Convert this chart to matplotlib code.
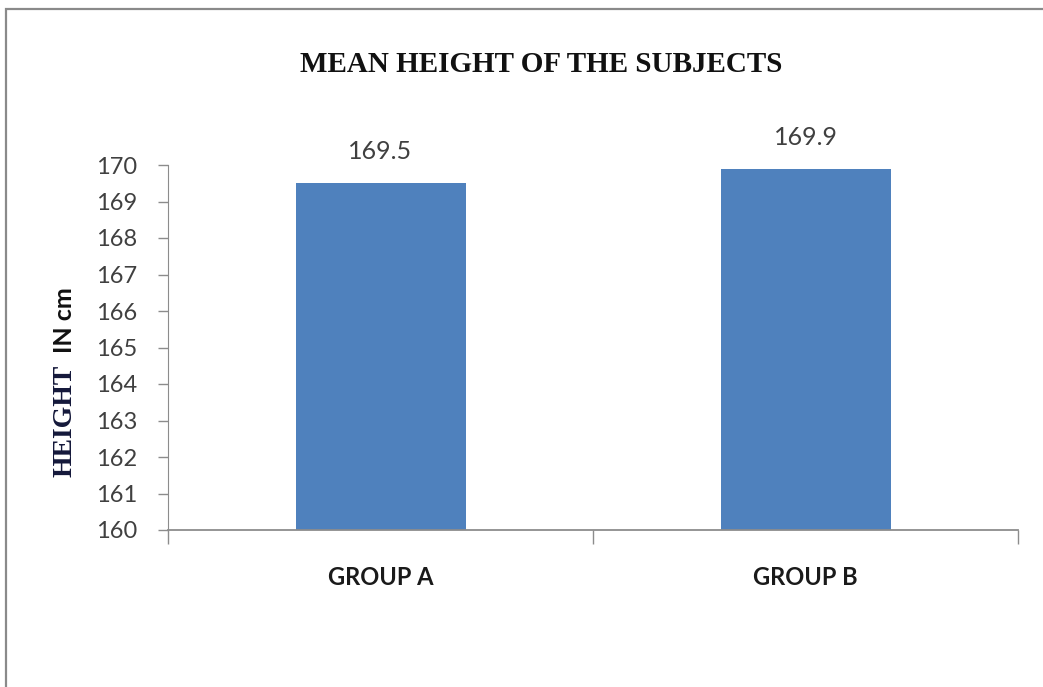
import matplotlib.pyplot as plt
from matplotlib.patches import Rectangle

# Dados do gráfico
grupos = ['GROUP A', 'GROUP B']
altura_media = [169.5, 169.9]
rotulos_y = [160, 161, 162, 163, 164, 165, 166, 167, 168, 169, 170]

cor_barra = '#4F81BD'
cor_eixo = '#8C8C8C'
cor_texto = '#404040'

fig = plt.figure(figsize=(10.43, 6.87), dpi=100)

# Moldura da área do gráfico (cortada à direita e embaixo)
fig.patches.append(Rectangle((6 / 1043, -0.1), 1.2, 1 - 9 / 687 + 0.1,
                             transform=fig.transFigure, fill=False,
                             edgecolor='#8A8A8A', linewidth=1.6))

ax = fig.add_axes([168 / 1043, 1 - 530 / 687, (1018 - 168) / 1043, (530 - 165) / 687])

x = range(len(grupos))
barras = ax.bar(x, altura_media, width=0.4, color=cor_barra, bottom=0)
ax.set_ylim(160, 170)
ax.set_xlim(-0.5, 1.5)
ax.set_yticks(rotulos_y)
ax.set_yticklabels([str(v) for v in rotulos_y], fontfamily='Lato', fontsize=17, color=cor_texto)
ax.set_xticks([-0.5, 0.5, 1.5])
ax.set_xticklabels([])
ax.tick_params(axis='y', direction='out', length=7, width=1, color=cor_eixo, pad=15)
ax.tick_params(axis='x', direction='out', length=10, width=1, color=cor_eixo)

for lado in ['top', 'right']:
    ax.spines[lado].set_visible(False)
ax.spines['left'].set_color(cor_eixo)
ax.spines['bottom'].set_color(cor_eixo)
ax.spines['bottom'].set_linewidth(1.3)

# Nomes dos grupos
for i, nome in enumerate(grupos):
    ax.text(i, 158.7, nome, ha='center', va='center', fontfamily='Lato',
            fontweight='bold', fontsize=17, color='#1a1a1a')

# Valores acima das barras
for i, v in enumerate(altura_media):
    ax.text(i, v + 0.55, f'{v}', ha='center', va='bottom', fontfamily='Lato',
            fontsize=18, color=cor_texto)

# Título
fig.text(541 / 1043, 1 - 65 / 687, 'MEAN HEIGHT OF THE SUBJECTS', ha='center', va='center',
         fontfamily='Liberation Serif', fontweight='bold', fontsize=21, color='#111111')

# Rótulo do eixo y com duas fontes
fig.text(65 / 1043, 1 - 421 / 687, 'HEIGHT', rotation=90, ha='center', va='center',
         fontfamily='Liberation Serif', fontweight='bold', fontsize=20, color='#14183a')
fig.text(65 / 1043, 1 - 320 / 687, 'IN cm', rotation=90, ha='center', va='center',
         fontfamily='Lato', fontweight='bold', fontsize=18, color='#111111')

plt.savefig('out.png', dpi=100)
